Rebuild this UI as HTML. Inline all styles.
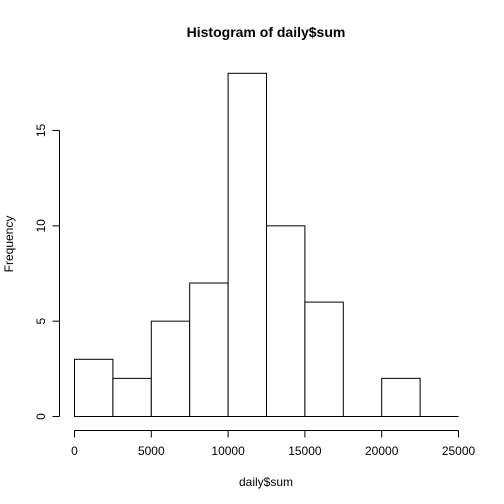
<!DOCTYPE html>
<html><head><style>body{margin:0;background:#fff}svg{display:block;font-family:"Liberation Sans",Arial,sans-serif}</style></head>
<body>
<svg width="504" height="504" viewBox="0 0 504 504">
<rect width="504" height="504" fill="#fff"/>
<text x="266" y="37" text-anchor="middle" font-size="14" font-weight="bold">Histogram of daily$sum</text>
<text x="266" y="486" text-anchor="middle" font-size="12">daily$sum</text>
<text transform="translate(13,244) rotate(-90)" text-anchor="middle" font-size="12">Frequency</text>
<g id="bars"></g><g id="xax"></g><g id="yax"></g>
</svg>
<script>
const breaks=[0,2500,5000,7500,10000,12500,15000,17500,20000,22500,25000];
const counts=[3,2,5,7,18,10,6,0,2,0];
const xTicks=[0,5000,10000,15000,20000,25000];
const yTicks=[0,5,10,15];
const NS="http://www.w3.org/2000/svg";
const sx=v=>74.5+v*(384/25000);
const sy=v=>416.5-v*(286/15);
function mk(t,a,p){const e=document.createElementNS(NS,t);for(const k in a)e.setAttribute(k,a[k]);p.appendChild(e);return e;}
const bars=document.getElementById('bars');
counts.forEach((c,i)=>{
 let r;
 if(c===0){
  r=mk('line',{x1:sx(breaks[i]),x2:sx(breaks[i+1]),y1:sy(0),y2:sy(0),stroke:'#000','stroke-width':1},bars);
 } else {
  r=mk('rect',{x:sx(breaks[i]),y:sy(c),width:sx(breaks[i+1])-sx(breaks[i]),height:sy(0)-sy(c),fill:'#fff',stroke:'#000','stroke-width':1},bars);
 }
 
 
});
const xa=document.getElementById('xax');


mk('line',{x1:sx(xTicks[0]),x2:sx(xTicks[xTicks.length-1]),y1:430.5,y2:430.5,stroke:'#000'},xa);
xTicks.forEach(t=>{mk('line',{x1:sx(t),x2:sx(t),y1:430.5,y2:437.5,stroke:'#000'},xa);
 const tx=mk('text',{x:sx(t),y:455,'text-anchor':'middle','font-size':12},xa);tx.textContent=t;
 
 });
const ya=document.getElementById('yax');


mk('line',{x1:59.5,x2:59.5,y1:sy(yTicks[0]),y2:sy(yTicks[yTicks.length-1]),stroke:'#000'},ya);
yTicks.forEach(t=>{mk('line',{x1:52.5,x2:59.5,y1:sy(t),y2:sy(t),stroke:'#000'},ya);
 const tx=mk('text',{transform:`translate(45,${sy(t)}) rotate(-90)`,'text-anchor':'middle','font-size':12},ya);tx.textContent=t;
 
 });
</script>
</body></html>
